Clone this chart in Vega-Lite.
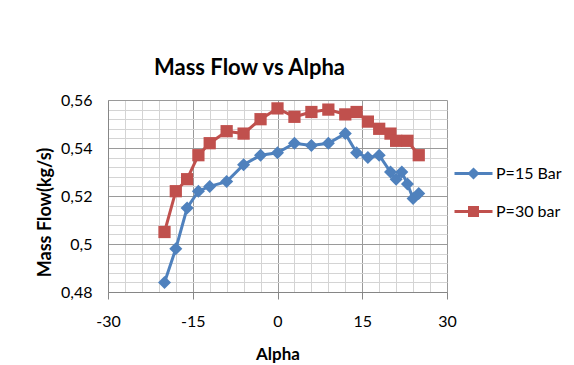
{
  "$schema": "https://vega.github.io/schema/vega-lite/v6.json",
  "width": 339,
  "height": 192,
  "autosize": {"type": "none"},
  "padding": {"left": 108, "top": 100, "right": 127, "bottom": 73},
  "background": "white",
  "title": {
    "text": "Mass Flow vs Alpha",
    "anchor": "middle",
    "dx": -28,
    "offset": -5,
    "baseline": "alphabetic",
    "font": "Lato",
    "fontSize": 22,
    "fontWeight": "bold",
    "color": "#000000"
  },
  "data": {
    "values": [
      {"series": "P=15 Bar", "alpha": -20, "flow": 0.484},
      {"series": "P=15 Bar", "alpha": -18, "flow": 0.498},
      {"series": "P=15 Bar", "alpha": -16, "flow": 0.515},
      {"series": "P=15 Bar", "alpha": -14, "flow": 0.522},
      {"series": "P=15 Bar", "alpha": -12, "flow": 0.524},
      {"series": "P=15 Bar", "alpha": -9, "flow": 0.526},
      {"series": "P=15 Bar", "alpha": -6, "flow": 0.533},
      {"series": "P=15 Bar", "alpha": -3, "flow": 0.537},
      {"series": "P=15 Bar", "alpha": 0, "flow": 0.538},
      {"series": "P=15 Bar", "alpha": 3, "flow": 0.542},
      {"series": "P=15 Bar", "alpha": 6, "flow": 0.541},
      {"series": "P=15 Bar", "alpha": 9, "flow": 0.542},
      {"series": "P=15 Bar", "alpha": 12, "flow": 0.546},
      {"series": "P=15 Bar", "alpha": 14, "flow": 0.538},
      {"series": "P=15 Bar", "alpha": 16, "flow": 0.536},
      {"series": "P=15 Bar", "alpha": 18, "flow": 0.537},
      {"series": "P=15 Bar", "alpha": 20, "flow": 0.530},
      {"series": "P=15 Bar", "alpha": 21, "flow": 0.527},
      {"series": "P=15 Bar", "alpha": 22, "flow": 0.530},
      {"series": "P=15 Bar", "alpha": 23, "flow": 0.525},
      {"series": "P=15 Bar", "alpha": 24, "flow": 0.519},
      {"series": "P=15 Bar", "alpha": 25, "flow": 0.521},
      {"series": "P=30 bar", "alpha": -20, "flow": 0.505},
      {"series": "P=30 bar", "alpha": -18, "flow": 0.522},
      {"series": "P=30 bar", "alpha": -16, "flow": 0.527},
      {"series": "P=30 bar", "alpha": -14, "flow": 0.537},
      {"series": "P=30 bar", "alpha": -12, "flow": 0.542},
      {"series": "P=30 bar", "alpha": -9, "flow": 0.547},
      {"series": "P=30 bar", "alpha": -6, "flow": 0.546},
      {"series": "P=30 bar", "alpha": -3, "flow": 0.552},
      {"series": "P=30 bar", "alpha": 0, "flow": 0.5565},
      {"series": "P=30 bar", "alpha": 3, "flow": 0.553},
      {"series": "P=30 bar", "alpha": 6, "flow": 0.555},
      {"series": "P=30 bar", "alpha": 9, "flow": 0.556},
      {"series": "P=30 bar", "alpha": 12, "flow": 0.554},
      {"series": "P=30 bar", "alpha": 14, "flow": 0.555},
      {"series": "P=30 bar", "alpha": 16, "flow": 0.551},
      {"series": "P=30 bar", "alpha": 18, "flow": 0.548},
      {"series": "P=30 bar", "alpha": 20, "flow": 0.546},
      {"series": "P=30 bar", "alpha": 21, "flow": 0.543},
      {"series": "P=30 bar", "alpha": 23, "flow": 0.543},
      {"series": "P=30 bar", "alpha": 25, "flow": 0.537}
    ]
  },
  "encoding": {
    "x": {
      "field": "alpha",
      "type": "quantitative",
      "scale": {"domain": [-30, 30], "nice": false, "zero": false},
      "axis": {
        "values": [-30, -27, -24, -21, -18, -15, -12, -9, -6, -3, 0, 3, 6, 9, 12, 15, 18, 21, 24, 27, 30],
        "title": "Alpha",
        "titleFont": "Lato",
        "titleFontSize": 17,
        "titleFontWeight": "bold",
        "titleColor": "#000000",
        "titleY": 62,
        "titleBaseline": "middle",
        "labelExpr": "datum.value % 15 === 0 ? '' + datum.value : ''",
        "labelFont": "Lato",
        "labelFontSize": 16,
        "labelColor": "#000000",
        "labelBaseline": "middle",
        "labelPadding": 22,
        "labelFlush": false,
        "labelOverlap": false,
        "tickSize": 7,
        "tickColor": "#868686",
        "tickOpacity": {"condition": {"test": "datum.value % 15 === 0", "value": 1}, "value": 0},
        "domainColor": "#868686",
        "grid": true,
        "gridColor": {"condition": {"test": "datum.value % 15 === 0", "value": "#9a9a9a"}, "value": "#d4d4d4"}
      }
    },
    "y": {
      "field": "flow",
      "type": "quantitative",
      "scale": {"domain": [0.48, 0.56], "nice": false, "zero": false},
      "axis": {
        "values": [0.48, 0.484, 0.488, 0.492, 0.496, 0.5, 0.504, 0.508, 0.512, 0.516, 0.52, 0.524, 0.528, 0.532, 0.536, 0.54, 0.544, 0.548, 0.552, 0.556, 0.56],
        "title": "Mass Flow(kg/s)",
        "titleFont": "Lato",
        "titleFontSize": 18,
        "titleFontWeight": "bold",
        "titleColor": "#000000",
        "titleX": -63,
        "titleY": 112,
        "titleBaseline": "middle",
        "labelExpr": "abs(datum.value * 50 - round(datum.value * 50)) < 0.001 ? replace(format(datum.value, '.2~f'), '.', ',') : ''",
        "labelFont": "Lato",
        "labelFontSize": 16,
        "labelColor": "#000000",
        "labelPadding": 16,
        "labelOverlap": false,
        "ticks": false,
        "domainColor": "#868686",
        "grid": true,
        "gridColor": {"condition": {"test": "abs(datum.value * 50 - round(datum.value * 50)) < 0.001", "value": "#9a9a9a"}, "value": "#d4d4d4"}
      }
    },
    "color": {
      "field": "series",
      "type": "nominal",
      "scale": {"domain": ["P=15 Bar", "P=30 bar"], "range": ["#4F81BD", "#C0504D"]},
      "legend": {
        "title": null,
        "orient": "none",
        "legendX": 345,
        "legendY": 53,
        "direction": "vertical",
        "padding": 0,
        "rowPadding": 7,
        "labelFont": "Lato",
        "labelFontSize": 16,
        "labelColor": "#000000",
        "labelOffset": 2,
        "symbolSize": 1444,
        "symbolStrokeWidth": 3,
        "encode": {
          "symbols": {
            "update": {
              "shape": {"signal": "datum.value === 'P=15 Bar' ? 'M-1,0L1,0M0,-0.21L0.21,0L0,0.21L-0.21,0Z' : 'M-1,0L1,0M-0.21,-0.21L0.21,-0.21L0.21,0.21L-0.21,0.21Z'"},
              "stroke": {"signal": "datum.value === 'P=15 Bar' ? '#4F81BD' : '#C0504D'"},
              "fill": {"signal": "datum.value === 'P=15 Bar' ? '#4F81BD' : '#C0504D'"},
              "strokeWidth": {"value": 3},
              "opacity": {"value": 1}
            }
          }
        }
      }
    }
  },
  "layer": [
    {"mark": {"type": "line", "strokeWidth": 3}},
    {
      "mark": {"type": "point", "filled": true, "opacity": 1},
      "encoding": {
        "shape": {"condition": {"test": "datum.series === 'P=15 Bar'", "value": "diamond"}, "value": "square"},
        "size": {"condition": {"test": "datum.series === 'P=15 Bar'", "value": 170}, "value": 150}
      }
    }
  ],
  "config": {"view": {"stroke": null}}
}
